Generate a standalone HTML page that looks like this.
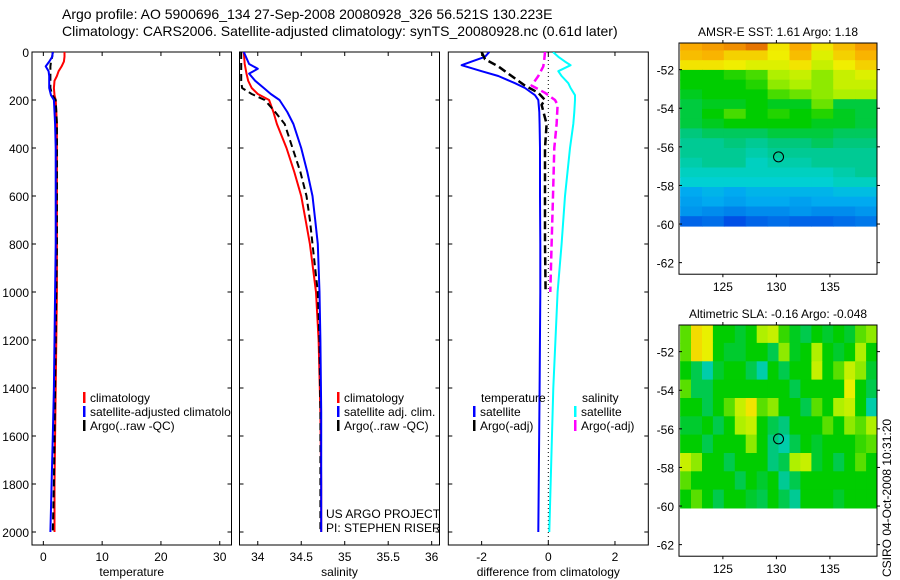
<!DOCTYPE html>
<html><head><meta charset="utf-8">
<style>
html,body{margin:0;padding:0;background:#fff;}
svg{display:block;font-family:"Liberation Sans",sans-serif;}
</style></head>
<body>
<svg id="fig" width="900" height="580" viewBox="0 0 900 580" xmlns="http://www.w3.org/2000/svg">
<defs>
<clipPath id="c1"><rect x="32" y="52" width="200" height="493"/></clipPath>
<clipPath id="c2"><rect x="239.5" y="52" width="200" height="493"/></clipPath>
<clipPath id="c3"><rect x="448" y="52" width="200" height="493"/></clipPath>
<clipPath id="cm1"><rect x="679" y="43" width="198" height="230"/></clipPath>
<clipPath id="cm2"><rect x="679" y="325" width="198" height="232"/></clipPath>
</defs>
<text x="62" y="19" font-size="14">Argo profile: AO 5900696_134 27-Sep-2008 20080928_326 56.521S 130.223E</text>
<text x="62" y="36" font-size="14">Climatology: CARS2006. Satellite-adjusted climatology: synTS_20080928.nc (0.61d later)</text>
<g id="g"></g>
</svg>
<script>
// ---------- data ----------
const depthT = [0,20,40,60,80,100,120,150,180,200,250,300,400,600,800,1000,1200,1400,1600,1800,2000];
const tempClim = [3.6,3.6,3.5,3.1,2.6,2.3,1.9,1.8,1.9,2.1,2.2,2.3,2.3,2.3,2.3,2.3,2.2,2.1,2.0,1.9,1.9];
const tempSat = [1.6,1.5,1.0,0.4,0.9,1.0,1.0,1.0,1.3,1.8,1.9,2.0,2.1,2.1,2.1,2.0,1.9,1.8,1.6,1.4,1.2];
const tempArgo = [1.6,1.5,1.3,1.2,1.2,1.2,1.2,1.2,1.5,2.1,2.2,2.3,2.3,2.3,2.3,2.2,2.1,2.0,1.9,1.8,1.6];

const depthS = [0,50,70,90,120,150,175,200,250,300,400,500,600,700,800,1000,1200,1500,1800,2000];
const salClim = [33.84,33.85,33.86,33.87,33.89,33.93,34.0,34.13,34.18,34.22,34.33,34.42,34.50,34.55,34.60,34.67,34.70,34.72,34.73,34.73];
const salSat = [33.84,33.90,34.0,33.9,33.97,34.07,34.15,34.25,34.34,34.41,34.50,34.57,34.63,34.66,34.69,34.71,34.72,34.73,34.73,34.73];
const salArgo = [33.81,33.81,33.81,33.81,33.81,33.82,33.93,34.08,34.2,34.31,34.40,34.49,34.56,34.60,34.63,34.69,34.71,34.72,34.72,34.72];

const depthD = [0,20,40,55,80,100,130,150,180,200,250,300,400,600,800,1000,1400,2000];
const diffTSat = [-1.77,-1.9,-2.3,-2.6,-2.0,-1.5,-1.0,-0.7,-0.4,-0.3,-0.27,-0.26,-0.25,-0.25,-0.24,-0.24,-0.26,-0.3];
const diffSSat = [0.14,0.3,0.5,0.67,0.3,0.4,0.6,0.67,0.8,0.8,0.78,0.75,0.65,0.5,0.4,0.28,0.15,0.03];
const depthDA = [0,30,60,100,140,170,200,220,300,400,600,800,1000];
const diffTArgo = [-2.0,-1.9,-1.5,-1.1,-0.7,-0.3,-0.1,-0.2,-0.05,-0.1,-0.1,-0.1,-0.08];
const diffSArgo = [-0.1,-0.12,-0.15,-0.3,-0.5,-0.1,0.2,0.28,0.25,0.18,0.14,0.1,0.06];

const depthTicks = [0,200,400,600,800,1000,1200,1400,1600,1800,2000];
const tempTicks = [0,10,20,30];
const salTicks = [34,34.5,35,35.5,36];
const diffTicks = [-2,0,2];
const lonTicks = [125,130,135];
const latTicks = [-52,-54,-56,-58,-60,-62];

const sstGrid = [
[3.0,3.1,3.2,3.4,2.4,3.0,2.4,2.8,3.1],
[2.8,2.9,2.6,2.6,2.3,2.8,2.2,2.6,2.9],
[2.4,2.4,2.3,2.2,2.2,2.4,2.1,2.3,2.6],
[1.5,1.5,1.6,1.7,2.0,2.1,1.9,2.1,2.2],
[1.5,1.5,1.5,1.6,1.9,2.0,1.9,2.1,2.1],
[1.4,1.5,1.5,1.5,1.7,1.8,1.9,2.0,2.0],
[1.3,1.4,1.4,1.5,1.4,1.4,1.8,1.3,1.3],
[1.3,1.5,1.7,1.5,1.6,1.5,1.6,1.4,1.3],
[1.3,1.4,1.5,1.5,1.5,1.5,1.4,1.4,1.3],
[1.1,1.2,1.2,1.2,1.3,1.3,1.3,1.2,1.2],
[1.0,1.0,1.1,1.0,1.1,1.1,1.2,1.1,1.1],
[1.0,1.0,1.0,0.9,1.0,1.0,1.0,1.0,1.0],
[0.9,1.0,1.0,0.8,0.9,0.9,1.0,1.0,1.0],
[0.8,0.8,0.8,0.8,0.8,0.8,0.8,0.9,1.0],
[0.7,0.7,0.7,0.7,0.7,0.7,0.7,0.8,0.8],
[0.3,0.4,0.3,0.4,0.4,0.4,0.4,0.5,0.5],
[0.2,0.3,0.2,0.3,0.3,0.2,0.3,0.3,0.3],
[0.1,0.0,-0.1,0.0,0.0,0.1,0.0,0.0,0.1],
[-0.4,-0.3,-0.6,-0.4,-0.3,-0.4,-0.4,-0.3,-0.2]];
const slaGrid = [
[0.05,0.2,0.15,0.0,0.0,-0.03,0.0,0.1,0.12,0.03,-0.02,-0.05,0.0,-0.03,0.0,-0.03,0.05,0.08],
[0.05,0.2,0.15,0.0,-0.03,-0.03,0.0,0.0,-0.05,0.08,-0.02,0.0,0.1,0.0,-0.03,0.0,0.1,0.0],
[0.0,-0.05,-0.12,-0.03,0.0,0.0,-0.05,-0.12,0.0,-0.05,0.0,0.0,0.12,0.0,0.05,0.12,0.08,-0.03],
[0.05,-0.05,-0.05,0.0,0.0,0.0,0.0,0.0,0.0,0.0,-0.05,0.0,0.0,0.0,0.0,0.15,0.0,-0.05],
[0.0,0.0,-0.05,0.0,0.05,0.12,0.18,0.05,0.08,0.0,0.0,-0.05,0.05,0.0,0.1,0.12,0.0,-0.12],
[-0.03,-0.03,0.0,-0.05,0.0,0.1,0.12,0.0,-0.05,-0.08,0.0,0.0,0.0,0.05,0.0,0.08,0.05,0.1],
[0.0,0.0,-0.05,0.0,0.0,0.0,0.08,0.0,-0.08,-0.12,-0.05,0.0,-0.03,0.0,0.0,0.0,0.03,0.05],
[0.12,0.08,0.0,0.0,-0.05,0.0,0.0,0.0,-0.08,-0.05,0.1,0.12,-0.03,0.0,-0.05,0.0,0.05,0.0],
[0.05,0.0,0.0,0.0,0.0,-0.05,0.0,-0.03,0.0,-0.1,-0.05,0.0,0.0,0.0,0.0,0.0,0.0,0.0],
[0.0,0.05,0.0,-0.05,0.0,0.0,-0.03,-0.05,0.0,-0.05,-0.1,0.0,0.0,0.0,-0.03,0.0,0.0,0.0]];
const argoLon = 130.2, argoLat = -56.52;

// ---------- helpers ----------
const NS = "http://www.w3.org/2000/svg";
const G = document.getElementById('g');
function mk(tag, attrs, parent){
  const e = document.createElementNS(NS, tag);
  for (const k in attrs) e.setAttribute(k, attrs[k]);
  (parent||G).appendChild(e); return e;
}
function txt(x,y,s,size,anchor,parent){
  const t = mk('text',{x:x,y:y,'font-size':size,'text-anchor':anchor||'start'},parent);
  t.textContent = s; return t;
}
const yD = d => 52 + d*0.24;
const P_TOP=52, P_BOT=545;

function panel(x0,x1,xmin,xmax,ticks,label,name,clip,showY){
  const sx = v => x0 + (v-xmin)/(xmax-xmin)*(x1-x0);
  const g = mk('g',{});
  
  
  const box = mk('rect',{x:x0,y:P_TOP,width:x1-x0,height:P_BOT-P_TOP,fill:'none',stroke:'#000','stroke-width':1},g);
  
  
  depthTicks.forEach(d=>{
    const y=yD(d);
    mk('line',{x1:x0,y1:y,x2:x0+4,y2:y,stroke:'#000'},g);
    mk('line',{x1:x1-4,y1:y,x2:x1,y2:y,stroke:'#000'},g);
    if(showY){ const t=txt(x0-3,y+5,String(d),12,'end',g);
      
       }
  });
  ticks.forEach(v=>{
    const x=sx(v);
    mk('line',{x1:x,y1:P_TOP,x2:x,y2:P_TOP+4,stroke:'#000'},g);
    mk('line',{x1:x,y1:P_BOT-4,x2:x,y2:P_BOT,stroke:'#000'},g);
    const t=txt(x,561,String(v),12,'middle',g);
    
    
  });
  const l=txt((x0+x1)/2,576,label,12,'middle',g);
  
  
  const lines = mk('g',{'clip-path':'url(#'+clip+')'},g);
  return {sx:sx, g:lines};
}
function series(p, depths, vals, color, dash, name, w){
  const pts = vals.map((v,i)=> p.sx(v).toFixed(1)+','+yD(depths[i]).toFixed(1)).join(' ');
  const pl = mk('polyline',{points:pts,fill:'none',stroke:color,'stroke-width':w||2,'stroke-dasharray':dash||'none','stroke-linejoin':'round'},p.g);
  
  
}
function legend(items, parent){
  items.forEach(it=>{
    const b = mk('rect',{x:it.x,y:it.y-10,width:2.5,height:11,fill:it.c},parent);
    
    
    const t = txt(it.x+7,it.y,it.t,12,'start',parent);
    
    
  });
}

// ---------- panels ----------
const p1 = panel(32,231.5,-1.93,32,tempTicks,'temperature','temperature-panel','c1',true);
series(p1,depthT,tempClim,'#f00',null,'temp-climatology-line');
series(p1,depthT,tempArgo,'#000','7,4','temp-argo-line');
series(p1,depthT,tempSat,'#00f',null,'temp-satellite-line');
legend([{x:83,y:402,c:'#f00',t:'climatology'},{x:83,y:416,c:'#00f',t:'satellite-adjusted climatology'},{x:83,y:430,c:'#000',t:'Argo(..raw -QC)'}],p1.g);

const p2 = panel(239.5,439.5,33.79,36.09,salTicks,'salinity','salinity-panel','c2',false);
series(p2,depthS,salClim,'#f00',null,'sal-climatology-line');
series(p2,depthS,salArgo,'#000','7,4','sal-argo-line');
series(p2,depthS,salSat,'#00f',null,'sal-satellite-line');
legend([{x:337,y:402,c:'#f00',t:'climatology'},{x:337,y:416,c:'#00f',t:'satellite adj. clim.'},{x:337,y:430,c:'#000',t:'Argo(..raw -QC)'}],p2.g);
const a1=txt(326,518,'US ARGO PROJECT',12,'start',p2.g);


const a2=txt(326,532,'PI: STEPHEN RISER',12,'start',p2.g);



const p3 = panel(448.3,648.3,-3,3,diffTicks,'difference from climatology','difference-panel','c3',false);
const zl = mk('line',{x1:p3.sx(0),y1:P_TOP,x2:p3.sx(0),y2:P_BOT,stroke:'#000','stroke-dasharray':'1,3'},p3.g);


series(p3,depthD,diffSSat,'#0ff',null,'sal-diff-satellite-line');
series(p3,depthD,diffTSat,'#00f',null,'temp-diff-satellite-line');
series(p3,depthDA,diffSArgo,'#f0f','8,4','sal-diff-argo-line',2.5);
series(p3,depthDA,diffTArgo,'#000','8,4','temp-diff-argo-line',2.5);
const lh1=txt(481,402,'temperature',12,'start',p3.g);


const lh2=txt(582,402,'salinity',12,'start',p3.g);


legend([{x:473,y:416,c:'#00f',t:'satellite'},{x:473,y:430,c:'#000',t:'Argo(-adj)'},{x:574,y:416,c:'#0ff',t:'satellite'},{x:574,y:430,c:'#f0f',t:'Argo(-adj)'}],p3.g);

// ---------- maps ----------
const stops=[[0,[0,0,150]],[0.15,[0,80,230]],[0.3,[0,170,240]],[0.37,[0,210,210]],[0.43,[0,200,130]],[0.5,[0,205,0]],[0.58,[170,240,0]],[0.63,[240,240,0]],[0.75,[250,170,0]],[0.85,[220,90,0]],[1,[170,0,0]]];
function cmap(t){
  t=Math.max(0,Math.min(1,t));
  for(let i=1;i<stops.length;i++){
    if(t<=stops[i][0]){
      const a=stops[i-1],b=stops[i],f=(t-a[0])/(b[0]-a[0]);
      const c=a[1].map((v,k)=>Math.round(v+(b[1][k]-v)*f));
      return 'rgb('+c.join(',')+')';
    }
  }
  return 'rgb(170,0,0)';
}
function map(top,title,grid,vmin,vmax,latTop,latBot,name,clip){
  const x0=679,x1=877,lonMin=120.9,lonMax=139.4,lat0=-50.62;
  const sx=l=>x0+(l-lonMin)/(lonMax-lonMin)*(x1-x0);
  const sy=l=>top+(lat0-l)*19.3;
  const g=mk('g',{});
  
  
  const cells=mk('g',{'clip-path':'url(#'+clip+')'},g);
  const nr=grid.length, nc=grid[0].length;
  const dLat=(latTop-latBot)/nr, dLon=(139.4-121)/nc;
  grid.forEach((row,r)=>row.forEach((v,c)=>{
    const lonA=121+c*dLon, latA=latTop-r*dLat;
    const xa=sx(lonA), ya=sy(latA);
    const cell=mk('rect',{x:xa.toFixed(1),y:ya.toFixed(1),width:(sx(lonA+dLon)-xa+0.6).toFixed(1),height:(sy(latA-dLat)-ya+0.6).toFixed(1),fill:cmap((v-vmin)/(vmax-vmin))},cells);
    
    
  }));
  const bottom=sy(-62.6);
  const fr=mk('rect',{x:x0,y:top,width:x1-x0,height:bottom-top,fill:'none',stroke:'#000'},g);
  
  
  latTicks.forEach(l=>{
    const y=sy(l);
    mk('line',{x1:x0,y1:y,x2:x0+3,y2:y,stroke:'#000'},g);
    mk('line',{x1:x1,y1:y,x2:x1+3,y2:y,stroke:'#000'},g);
    const t=txt(x0-5,y+5,String(l),12,'end',g);
    
    
  });
  lonTicks.forEach(l=>{
    const x=sx(l);
    mk('line',{x1:x,y1:top-3,x2:x,y2:top,stroke:'#000'},g);
    mk('line',{x1:x,y1:bottom,x2:x,y2:bottom+3,stroke:'#000'},g);
    const t=txt(x,bottom+17,String(l),12,'middle',g);
    
    
  });
  const tt=txt((x0+x1)/2,top-7,title,12,'middle',g);
  
  
  const m=mk('circle',{cx:sx(argoLon),cy:sy(argoLat),r:5,fill:'none',stroke:'#000','stroke-width':1},g);
  
  
}
map(43,'AMSR-E SST: 1.61  Argo: 1.18',sstGrid,-1.5,4.5,-50.5,-60.1,'sst-map','cm1');
map(325,'Altimetric SLA: -0.16  Argo: -0.048',slaGrid,-0.6,0.6,-50.6,-60.1,'sla-map','cm2');

const stamp=txt(0,0,'CSIRO 04-Oct-2008 10:31:20',12,'start');
stamp.setAttribute('transform','translate(891,577) rotate(-90)');


</script>
</body></html>
